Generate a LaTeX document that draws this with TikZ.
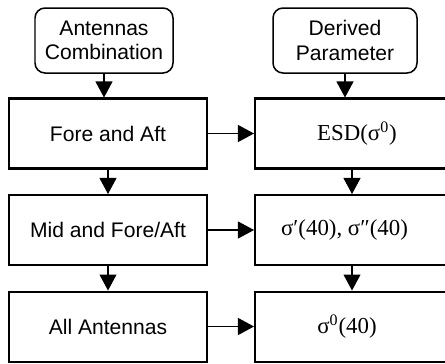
\documentclass[tikz,border=0pt]{standalone}
\usepackage{fontspec}
\setmainfont{Liberation Serif}
\newfontfamily\arial{Liberation Sans}
\usetikzlibrary{arrows.meta}

\tikzset{
  headbox/.style={draw, line width=0.85pt, rounded corners=0.2cm, align=center, inner sep=0pt, font=\arial\fontsize{12}{14}\selectfont},
  stepbox/.style={draw, line width=1.15pt, minimum width=3.96cm, minimum height=1.40cm, inner sep=0pt, font=\arial\fontsize{12}{14}\selectfont},
  parbox/.style={draw, line width=1.15pt, minimum width=3.88cm, minimum height=1.40cm, inner sep=0pt, font=\fontsize{13}{15}\selectfont},
  flow/.style={line width=0.6pt, -{Triangle[length=0.32cm,width=0.34cm]}}
}

\begin{document}
\begin{tikzpicture}
  \useasboundingbox (0,0) rectangle (8.9,7.26);
  % column headers
  \node[headbox, minimum width=2.76cm, minimum height=1.30cm] (hcomb) at (2.08,6.45) {Antennas\\Combination};
  \node[headbox, minimum width=2.88cm, minimum height=1.30cm] (hpar) at (6.90,6.45) {Derived\\Parameter};
  % antenna combinations
  \node[stepbox] (fa) at (2.16,4.59) {Fore and Aft};
  \node[stepbox] (mfa) at (2.16,2.66) {Mid and Fore/Aft};
  \node[stepbox] (all) at (2.16,0.73) {All Antennas};
  % derived parameters
  \node[parbox] (esd) at (7.04,4.59) {\hspace*{0.2cm}ESD(σ\textsuperscript{0})};
  \node[parbox] (sig) at (7.04,2.66) {σ′(40), σ″(40)\hspace*{0.3cm}};
  \node[parbox] (sig0) at (7.04,0.73) {σ\textsuperscript{0}(40)\hspace*{0.2cm}};
  % connectors
  \draw[flow] (hcomb.south) -- (hcomb.south |- fa.north);
  \draw[flow] (hpar.south) -- (hpar.south |- esd.north);
  \draw[flow] (fa) -- (mfa);
  \draw[flow] (mfa) -- (all);
  \draw[flow] (esd) -- (sig);
  \draw[flow] (sig) -- (sig0);
  \draw[flow] (fa) -- (esd);
  \draw[flow] (mfa) -- (sig);
  \draw[flow] (all) -- (sig0);
\end{tikzpicture}
\end{document}
